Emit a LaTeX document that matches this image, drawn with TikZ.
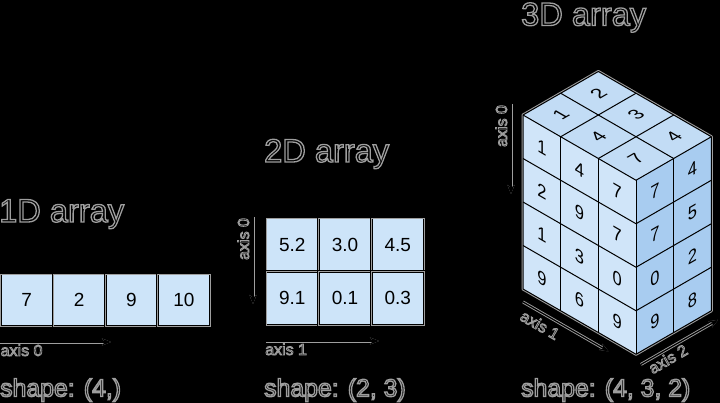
\documentclass[tikz,border=0pt]{standalone}
\usepackage{fontspec}
\setmainfont{Liberation Sans}
\usetikzlibrary{calc,arrows.meta}
\definecolor{cellblue}{HTML}{CDE4F9}
\definecolor{leftblue}{HTML}{D0E5F9}
\definecolor{topblue}{HTML}{C2DCF5}
\definecolor{rightblue}{HTML}{A8CCF0}
\definecolor{haloc}{gray}{0.62}
% text drawn black with a grey outline (fill + stroke render mode)
\newcommand{\halo}[2][1.3]{\special{pdf:literal 2 Tr 0.62 G #1 w}#2\special{pdf:literal 0 Tr}}
\tikzset{
  cellbox/.style={draw=black, double=haloc, double distance=0.6pt, line width=1pt, fill=cellblue},
  cellnum/.style={font=\fontsize{19}{19}\selectfont, inner sep=0pt},
  titletxt/.style={font=\fontsize{32.6}{34}\selectfont, anchor=base west, inner sep=0pt},
  shapetxt/.style={font=\fontsize{24.8}{26}\selectfont, anchor=base west, inner sep=0pt},
  axistxt/.style={font=\fontsize{16}{17}\selectfont, inner sep=0pt},
  axisarrow/.style={draw=black, line width=1.2pt, -{Stealth[length=9pt,width=7pt]},
    preaction={draw=haloc, line width=3pt}},
  edge3d/.style={draw=black, line width=1pt, line join=round},
  lfnum/.style={cm={0.866,-0.5,0,1,(0,0)}, font=\fontsize{19}{19}\selectfont, inner sep=0pt},
  rfnum/.style={cm={0.866,0.5,0,1,(0,0)}, font=\fontsize{19}{19}\selectfont, inner sep=0pt},
  tfnum/.style={cm={0.866,0.5,-0.866,0.5,(0,0)}, font=\fontsize{19}{19}\selectfont, inner sep=0pt},
}
\begin{document}
\begin{tikzpicture}[x=1pt,y=-1pt]
\fill[black] (0,0) rectangle (720,403);
\useasboundingbox (0,0) rectangle (720,403);

% ---------- 1D array ----------
\node[titletxt] (t1) at (-1,222) {\halo{1D array}};
\foreach \v [count=\k from 0] in {7,2,9,10} {
  \pgfmathsetmacro\xa{0.5+52.4*\k}
  \pgfmathsetmacro\xb{\xa+52.4}
  \draw[cellbox] (\xa,274) rectangle (\xb,326.5);
  \node[cellnum] (a\k) at ({(\xa+\xb)/2},300.25) {\v};
}
\coordinate (a1s) at (0,342);
\coordinate (a1e) at (111,342);
\draw[axisarrow] (a1s) -- (a1e);
\node[axistxt, anchor=base west] (ax1) at (0.5,356) {\halo[0.8]{axis 0}};
\node[shapetxt] (s1) at (0,396.5) {\halo{shape: (4,)}};

% ---------- 2D array ----------
\node[titletxt] (t2) at (264,162) {\halo{2D array}};
\foreach \v [count=\k from 0] in {5.2,3.0,4.5,9.1,0.1,0.3} {
  \pgfmathtruncatemacro\r{int(\k/3)}
  \pgfmathtruncatemacro\c{mod(\k,3)}
  \pgfmathsetmacro\xa{266+52.7*\c}
  \pgfmathsetmacro\xb{\xa+52.7}
  \pgfmathsetmacro\ya{218+53.5*\r}
  \pgfmathsetmacro\yb{\ya+53.5}
  \draw[cellbox] (\xa,\ya) rectangle (\xb,\yb);
  \node[cellnum] (b\k) at ({(\xa+\xb)/2},{(\ya+\yb)/2}) {\v};
}
\coordinate (b1s) at (266,341);
\coordinate (b1e) at (379,341);
\draw[axisarrow] (b1s) -- (b1e);
\node[axistxt, anchor=base west] (bx1) at (265,355) {\halo[0.8]{axis 1}};
\coordinate (b0s) at (253,217);
\coordinate (b0e) at (253,304);
\draw[axisarrow] (b0s) -- (b0e);
\node[axistxt, rotate=90, anchor=base] (bx0) at (249,239) {\halo[0.8]{axis 0}};
\node[shapetxt] (s2) at (264,396.5) {\halo{shape: (2, 3)}};

% ---------- 3D array ----------
\node[titletxt] (t3) at (521,25.5) {\halo{3D array}};
\coordinate (L) at (523,115);
\coordinate (u1) at (37.67,21.75);
\coordinate (u2) at (37.67,-21.75);
\coordinate (u0) at (0,43.5);
\coordinate (F) at ($(L)+3*(u1)$);
\coordinate (R) at ($(F)+2*(u2)$);
\coordinate (B) at ($(L)+2*(u2)$);
\coordinate (Lb) at ($(L)+4*(u0)$);
\coordinate (Fb) at ($(F)+4*(u0)$);
\coordinate (Rb) at ($(R)+4*(u0)$);
% halo around silhouette
\draw[haloc, line width=3pt, line join=round] (L) -- (B) -- (R) -- (Rb) -- (Fb) -- (Lb) -- cycle;
% faces
\fill[leftblue] (L) -- (F) -- (Fb) -- (Lb) -- cycle;
\fill[topblue] (L) -- (F) -- (R) -- (B) -- cycle;
\fill[rightblue] (F) -- (R) -- (Rb) -- (Fb) -- cycle;
% grid lines
\foreach \i in {1,2} {
  \draw[edge3d] ($(L)+\i*(u1)$) -- ++(0,174);
  \draw[edge3d] ($(L)+\i*(u1)$) -- ($(L)+\i*(u1)+2*(u2)$);
}
\draw[edge3d] ($(L)+(u2)$) -- ($(L)+(u2)+3*(u1)$);
\foreach \i in {1,2,3} {
  \draw[edge3d] ($(L)+\i*(u0)$) -- ($(F)+\i*(u0)$);
  \draw[edge3d] ($(F)+\i*(u0)$) -- ($(R)+\i*(u0)$);
}
\draw[edge3d] ($(F)+(u2)$) -- ++(0,174);
% outline
\draw[edge3d] (L) -- (B) -- (R) -- (Rb) -- (Fb) -- (Lb) -- cycle;
\draw[edge3d] (L) -- (F) -- (R);
\draw[edge3d] (F) -- (Fb);
% numbers: left face a[:, :, 0]
\foreach \v [count=\k from 0] in {1,4,7,2,9,7,1,3,0,9,6,9} {
  \pgfmathtruncatemacro\r{int(\k/3)}
  \pgfmathtruncatemacro\c{mod(\k,3)}
  \pgfmathsetmacro\fa{\c+0.5}
  \pgfmathsetmacro\fb{\r+0.5}
  \node[lfnum] (l\k) at ($(L)+\fa*(u1)+\fb*(u0)$) {\v};
}
% right face a[:, 2, :]
\foreach \v [count=\k from 0] in {7,4,7,5,0,2,9,8} {
  \pgfmathtruncatemacro\r{int(\k/2)}
  \pgfmathtruncatemacro\c{mod(\k,2)}
  \pgfmathsetmacro\fa{\c+0.5}
  \pgfmathsetmacro\fb{\r+0.5}
  \node[rfnum] (r\k) at ($(F)+\fa*(u2)+\fb*(u0)$) {\v};
}
% top face a[0, :, :]
\foreach \v [count=\k from 0] in {1,2,4,3,7,4} {
  \pgfmathtruncatemacro\r{int(\k/2)}
  \pgfmathtruncatemacro\c{mod(\k,2)}
  \pgfmathsetmacro\fa{\r+0.5}
  \pgfmathsetmacro\fb{\c+0.5}
  \node[tfnum] (p\k) at ($(L)+\fa*(u1)+\fb*(u2)$) {\v};
}
% axes
\coordinate (c0s) at (511,104);
\coordinate (c0e) at (511,194);
\draw[axisarrow] (c0s) -- (c0e);
\node[axistxt, rotate=90, anchor=base] (cx0) at (507,126) {\halo[0.8]{axis 0}};
\coordinate (c1s) at ($(L)+4*(u0)+(0,13)$);
\coordinate (c1e) at ($(L)+2.27*(u1)+4*(u0)+(0,13)$);
\draw[axisarrow] (c1s) -- (c1e);
\node[axistxt, rotate=-30] (cx1) at (540,325) {\halo[0.8]{axis 1}};
\coordinate (c2s) at ($(Fb)+0.13*(u2)+(0,13)$);
\coordinate (c2e) at ($(Fb)+2.18*(u2)+(0,13)$);
\draw[axisarrow] (c2s) -- (c2e);
\node[axistxt, rotate=30] (cx2) at (668,359) {\halo[0.8]{axis 2}};
\node[shapetxt] (s3) at (521,396.5) {\halo{shape: (4, 3, 2)}};
\end{tikzpicture}
\end{document}
